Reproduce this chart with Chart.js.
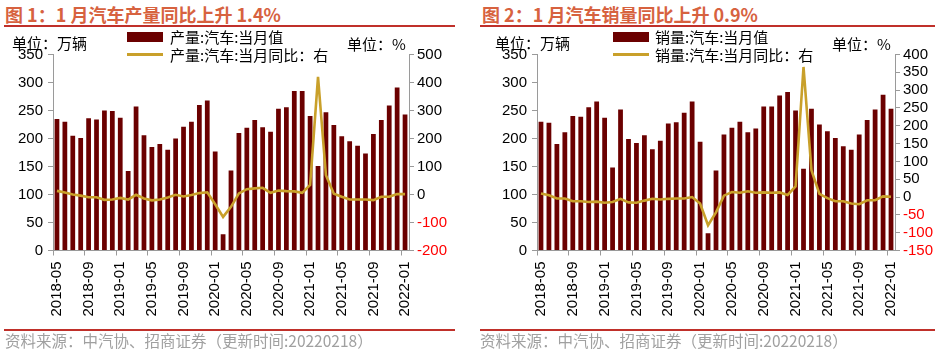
<!DOCTYPE html>
<html>
<head>
<meta charset="utf-8">
<script src="https://cdn.jsdelivr.net/npm/chart.js@4"></script>
<style>
  html, body { margin: 0; padding: 0; background: #fff; }
  body { width: 935px; height: 357px; position: relative; overflow: hidden; }
  .t { position: absolute; white-space: nowrap; line-height: 1; }
  .title { font-family: "Noto Sans CJK SC", sans-serif; font-weight: bold; font-size: 18px; color: #D7623F; }
  .cjk { font-family: "Noto Sans CJK SC", sans-serif; font-size: 15px; color: #000; }
  .foot { font-family: "Noto Sans CJK SC", sans-serif; font-size: 15.5px; color: #a0a0a0; }
  .rule { position: absolute; height: 2px; background: #C0302A; }
  .box { position: absolute; width: 36px; height: 10px; background: #6B0000; }
  .ln { position: absolute; width: 36px; height: 3px; background: #C9A02A; }
  .cv { position: absolute; top: 40px; }
</style>
</head>
<body>
<div class="t title" style="left:5px; top:5px;">图 1：1 月汽车产量同比上升 1.4%</div>
<div class="t title" style="left:482px; top:5px;">图 2：1 月汽车销量同比上升 0.9%</div>
<div class="rule" style="left:4px; width:451px; top:25px;"></div>
<div class="rule" style="left:480px; width:455px; top:25px;"></div>

<canvas id="c1" class="cv" width="465" height="290" style="left:0px;"></canvas>
<canvas id="c2" class="cv" width="465" height="290" style="left:470px;"></canvas>

<div class="t cjk" style="left:12px; top:35px;">单位：万辆</div>
<div class="box" style="left:127px; top:32px;"></div>
<div class="t cjk" style="left:170px; top:29px;">产量:汽车:当月值</div>
<div class="ln" style="left:127px; top:53px;"></div>
<div class="t cjk" style="left:170px; top:47px;">产量:汽车:当月同比：右</div>
<div class="t cjk" style="left:347px; top:36px;">单位：%</div>

<div class="t cjk" style="left:495px; top:35px;">单位：万辆</div>
<div class="box" style="left:613px; top:32px;"></div>
<div class="t cjk" style="left:655px; top:29px;">销量:汽车:当月值</div>
<div class="ln" style="left:613px; top:53px;"></div>
<div class="t cjk" style="left:655px; top:47px;">销量:汽车:当月同比：右</div>
<div class="t cjk" style="left:832px; top:36px;">单位：%</div>

<div class="rule" style="left:4px; width:451px; top:329px;"></div>
<div class="rule" style="left:480px; width:455px; top:329px;"></div>
<div class="t foot" style="left:5px; top:333px;">资料来源：中汽协、招商证券（更新时间:20220218）</div>
<div class="t foot" style="left:480px; top:333px;">资料来源：中汽协、招商证券（更新时间:20220218）</div>

<script>
const months = ['2018-05','2018-06','2018-07','2018-08','2018-09','2018-10','2018-11','2018-12',
  '2019-01','2019-02','2019-03','2019-04','2019-05','2019-06','2019-07','2019-08','2019-09','2019-10','2019-11','2019-12',
  '2020-01','2020-02','2020-03','2020-04','2020-05','2020-06','2020-07','2020-08','2020-09','2020-10','2020-11','2020-12',
  '2021-01','2021-02','2021-03','2021-04','2021-05','2021-06','2021-07','2021-08','2021-09','2021-10','2021-11','2021-12',
  '2022-01'];

const prodValues = [235,230,205,201,236,234,250,249,237,142,257,206,185,190,180,200,221,230,260,268,
  177,29,143,210,219,233,220,212,253,256,285,285,240,151,247,224,204,195,187,173,208,233,259,291,243];
const prodYoY = [13,7,0,-4,-10,-10,-19,-18,-12,-18,-1,-14,-21,-18,-11,-1,-7,-2,5,8,
  -35,-80,-44,4,19,22,24,6,14,12,11,6,34,420,69,3,-8,-18,-18,-18,-20,-8,-8,2,1.4];

const salesValues = [230,228,190,211,240,239,256,266,237,148,252,199,192,206,181,196,227,229,246,266,
  194,31,143,207,219,230,211,218,257,257,277,283,250,146,253,225,213,201,186,180,207,233,252,278,253];
const salesYoY = [10,5,-4,-4,-12,-12,-14,-13,-16,-14,-5,-15,-16,-10,-5,-7,-5,-4,-4,0,
  -18,-79,-43,4,14,12,16,12,13,12,13,6,30,365,75,9,-3,-12,-12,-18,-20,-9,-9,2,0.9];

const leftAxis = { min: 0, max: 350, step: 50 };
const prodRightAxis = { min: -200, max: 500, step: 100 };
const salesRightAxis = { min: -150, max: 400, step: 50 };

const FONT = { family: "'Liberation Sans', Arial, sans-serif", size: 15 };
const AXIS_GREY = '#9a9a9a';

function makeChart(id, bars, yoy, rightAxis, leftW, rightW, barLabel, lineLabel) {
  return new Chart(document.getElementById(id), {
    data: {
      labels: months,
      datasets: [
        { type: 'line', label: lineLabel, data: yoy, yAxisID: 'y1', order: 0,
          borderColor: '#C9A02A', borderWidth: 2.6, pointRadius: 0, tension: 0, fill: false },
        { type: 'bar', label: barLabel, data: bars, yAxisID: 'y', order: 1,
          backgroundColor: '#6B0000', categoryPercentage: 1.0, barPercentage: 0.6 }
      ]
    },
    options: {
      responsive: false,
      animation: false,
      layout: { padding: { top: 14.5, left: 0, right: 0, bottom: 0 } },
      plugins: { legend: { display: false }, tooltip: { enabled: false }, title: { display: false } },
      scales: {
        x: {
          offset: true,
          grid: { drawOnChartArea: false, offset: true, tickLength: 5,
                  color: ctx => (ctx.index % 4 === 0 ? AXIS_GREY : 'rgba(0,0,0,0)') },
          border: { color: AXIS_GREY, width: 1 },
          ticks: { autoSkip: false, minRotation: 90, maxRotation: 90, padding: 6,
                   color: '#000', font: FONT,
                   callback: (v, i) => (i % 4 === 0 ? months[i] : '') },
          afterFit: s => { s.height = 79.5; }
        },
        y: {
          position: 'left', min: leftAxis.min, max: leftAxis.max,
          grid: { drawOnChartArea: false, tickLength: 5, color: AXIS_GREY },
          border: { color: AXIS_GREY, width: 1 },
          ticks: { autoSkip: false, stepSize: leftAxis.step, color: '#000', font: FONT, padding: 5 },
          afterFit: s => { s.width = leftW; }
        },
        y1: {
          position: 'right', min: rightAxis.min, max: rightAxis.max,
          grid: { drawOnChartArea: false, tickLength: 5, color: AXIS_GREY },
          border: { color: AXIS_GREY, width: 1 },
          ticks: { autoSkip: false, stepSize: rightAxis.step, font: FONT, padding: 3,
                   color: ctx => (ctx.tick && ctx.tick.value < 0 ? '#FF0000' : '#000') },
          afterFit: s => { s.width = rightW; }
        }
      }
    }
  });
}

makeChart('c1', prodValues, prodYoY, prodRightAxis, 53, 56, '产量:汽车:当月值', '产量:汽车:当月同比：右');
makeChart('c2', salesValues, salesYoY, salesRightAxis, 67, 40, '销量:汽车:当月值', '销量:汽车:当月同比：右');
</script>
</body>
</html>
